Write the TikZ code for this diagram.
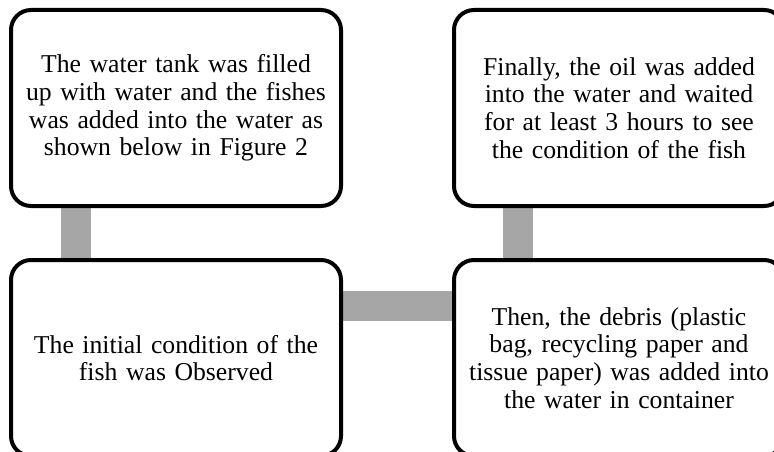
\documentclass[tikz,border=0pt]{standalone}
\usepackage{fontspec}
\setmainfont{Liberation Serif}
\usetikzlibrary{backgrounds}
\definecolor{linkgray}{HTML}{A6A6A6}

\begin{document}
\begin{tikzpicture}[x=1pt, y=-1pt,
    stepbox/.style={draw=black, fill=white, line width=4pt, rounded corners=20pt,
        minimum width=330pt, minimum height=196pt, inner sep=0pt,
        text width=322pt, align=center,
        font=\fontsize{25.7}{27.6}\selectfont},
    link/.style={draw=linkgray, line width=30pt}]
    \useasboundingbox (0,0) rectangle (774,452);

    % Steps
    \node[stepbox] (fill) at (176,108) {The water tank was filled\\up with water and the fishes\\was added into the water as\\shown below in Figure 2};
    \node[stepbox] (observe) at (176,358) {The initial condition of the\\fish was Observed};
    \node[stepbox] (debris) at (619,358) {Then, the debris (plastic\\bag, recycling paper and\\tissue paper) was added into\\the water in container};
    \node[stepbox] (oil) at (619,108) {Finally, the oil was added\\into the water and waited\\for at least 3 hours to see\\the condition of the fish};

    % Connectors behind the boxes
    \begin{scope}[on background layer]
        \draw[link] ([xshift=67pt]fill.south west) -- ([xshift=67pt]observe.north west);
        \draw[link] ([yshift=-48pt]observe.north east) -- ([yshift=-48pt]debris.north west);
        \draw[link] ([xshift=66pt]debris.north west) -- ([xshift=66pt]oil.south west);
    \end{scope}
\end{tikzpicture}
\end{document}
